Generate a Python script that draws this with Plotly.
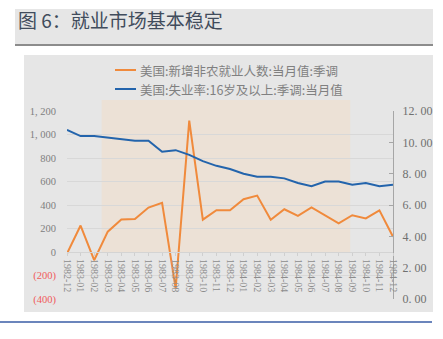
import plotly.graph_objects as go

# Monthly data, Dec 1982 - Dec 1984
months = ["1982-12", "1983-01", "1983-02", "1983-03", "1983-04", "1983-05", "1983-06",
          "1983-07", "1983-08", "1983-09", "1983-10", "1983-11", "1983-12", "1984-01",
          "1984-02", "1984-03", "1984-04", "1984-05", "1984-06", "1984-07", "1984-08",
          "1984-09", "1984-10", "1984-11", "1984-12"]
payrolls = [-14, 225, -70, 173, 276, 280, 378, 418, -310, 1118, 275, 355, 356, 449,
            480, 275, 364, 308, 379, 313, 244, 313, 286, 355, 130]
unemployment = [10.8, 10.4, 10.4, 10.3, 10.2, 10.1, 10.1, 9.4, 9.5, 9.2, 8.8, 8.5, 8.3,
                8.0, 7.8, 7.8, 7.7, 7.4, 7.2, 7.5, 7.5, 7.3, 7.4, 7.2, 7.3]
payroll_name = "美国:新增非农就业人数:当月值:季调"
unemp_name = "美国:失业率:16岁及以上:季调:当月值"
title_text = "图 6：就业市场基本稳定"

left_ticks = [-400, -200, 0, 200, 400, 600, 800, 1000, 1200]
right_ticks = [0, 2, 4, 6, 8, 10, 12]
shade_start, shade_end = 2.55, 20.85   # shaded period, in month-index units

W, H = 443, 339
ML, MR, MT, MB = 67, 50, 111, 40
PW, PH = W - ML - MR, H - MT - MB

def px(x):
    return (x - ML) / PW

def py(y):
    return (H - MB - y) / PH

def left_label(v):
    s = f"{abs(v):,}".replace(",", ", ")
    if v < 0:
        return f'<span style="color:#f05a5a">({s})</span>'
    return s

def right_label(v):
    return f"{v:.2f}".replace(".", ". ")

ORANGE = "#f08a3c"
BLUE = "#2364ac"
GREY_TXT = "#808080"
SERIF = "Liberation Serif"
CJK = "Noto Sans CJK SC"

fig = go.Figure()
fig.add_trace(go.Scatter(x=months, y=payrolls, mode="lines", name=payroll_name,
                         line=dict(color=ORANGE, width=2), yaxis="y"))
fig.add_trace(go.Scatter(x=months, y=unemployment, mode="lines", name=unemp_name,
                         line=dict(color=BLUE, width=2), yaxis="y2"))

n = len(months) - 1
shapes = [
    # title bar
    dict(type="rect", xref="paper", yref="paper", x0=px(15), x1=px(433), y0=py(45), y1=py(9),
         fillcolor="#e6e6e6", line_width=0, layer="below"),
    dict(type="line", xref="paper", yref="paper", x0=px(15), x1=px(433), y0=py(45), y1=py(45),
         line=dict(color="#8c8c8c", width=2), layer="below"),
    # chart box
    dict(type="rect", xref="paper", yref="paper", x0=px(24), x1=px(433), y0=py(312), y1=py(55),
         fillcolor="#e6e6e6", line_width=0, layer="below"),
    # shaded period
    dict(type="rect", xref="paper", yref="paper", x0=shade_start / n, x1=shade_end / n,
         y0=py(253), y1=py(100), fillcolor="#ece1d6", line_width=0, layer="below"),
    # bottom rule
    dict(type="line", xref="paper", yref="paper", x0=px(0), x1=px(432), y0=py(322), y1=py(322),
         line=dict(color="#3a5ca6", width=1.5), layer="below"),
    # legend keys
    dict(type="line", xref="paper", yref="paper", x0=px(115), x1=px(136), y0=py(70), y1=py(70),
         line=dict(color=ORANGE, width=2)),
    dict(type="line", xref="paper", yref="paper", x0=px(115), x1=px(136), y0=py(89), y1=py(89),
         line=dict(color=BLUE, width=2)),
]

annotations = [
    dict(text=title_text, xref="paper", yref="paper", x=px(16), y=py(19), xanchor="left",
         yanchor="middle", showarrow=False, font=dict(family=CJK, size=19, color="#414c5c")),
    dict(text=payroll_name, xref="paper", yref="paper", x=px(138), y=py(70), xanchor="left",
         yanchor="middle", showarrow=False, font=dict(family=CJK, size=12.5, color=GREY_TXT)),
    dict(text=unemp_name, xref="paper", yref="paper", x=px(138), y=py(89), xanchor="left",
         yanchor="middle", showarrow=False, font=dict(family=CJK, size=12.5, color=GREY_TXT)),
]

fig.update_layout(
    width=W, height=H,
    margin=dict(l=ML, r=MR, t=MT, b=MB, pad=0),
    paper_bgcolor="white", plot_bgcolor="rgba(0,0,0,0)",
    showlegend=False,
    shapes=shapes, annotations=annotations,
    xaxis=dict(type="category", range=[0, n], anchor="free", position=0.25,
               tickangle=90, showgrid=False, showline=True, linecolor="#d4d4d4", linewidth=1,
               ticks="outside", ticklen=3, tickcolor="#cfcfcf", ticklabelstandoff=1,
               tickfont=dict(family=SERIF, size=10, color="#8c8c8c"), zeroline=False),
    yaxis=dict(range=[-400, 1200], tickvals=left_ticks,
               ticktext=[left_label(v) for v in left_ticks],
               showgrid=True, gridcolor="#d8d8d8", gridwidth=1, zeroline=False,
               showline=False, ticks="", ticklabelstandoff=10,
               tickfont=dict(family=SERIF, size=10.5, color=GREY_TXT)),
    yaxis2=dict(range=[0, 12], overlaying="y", side="right", tickvals=right_ticks,
                ticktext=[right_label(v) for v in right_ticks],
                showgrid=False, zeroline=False, showline=True, linecolor="#a6a6a6",
                linewidth=1, ticks="inside", ticklen=4, tickcolor="#a6a6a6",
                ticklabelstandoff=6,
                tickfont=dict(family=SERIF, size=12, color="#707070")),
)

fig.write_html("out.html")
